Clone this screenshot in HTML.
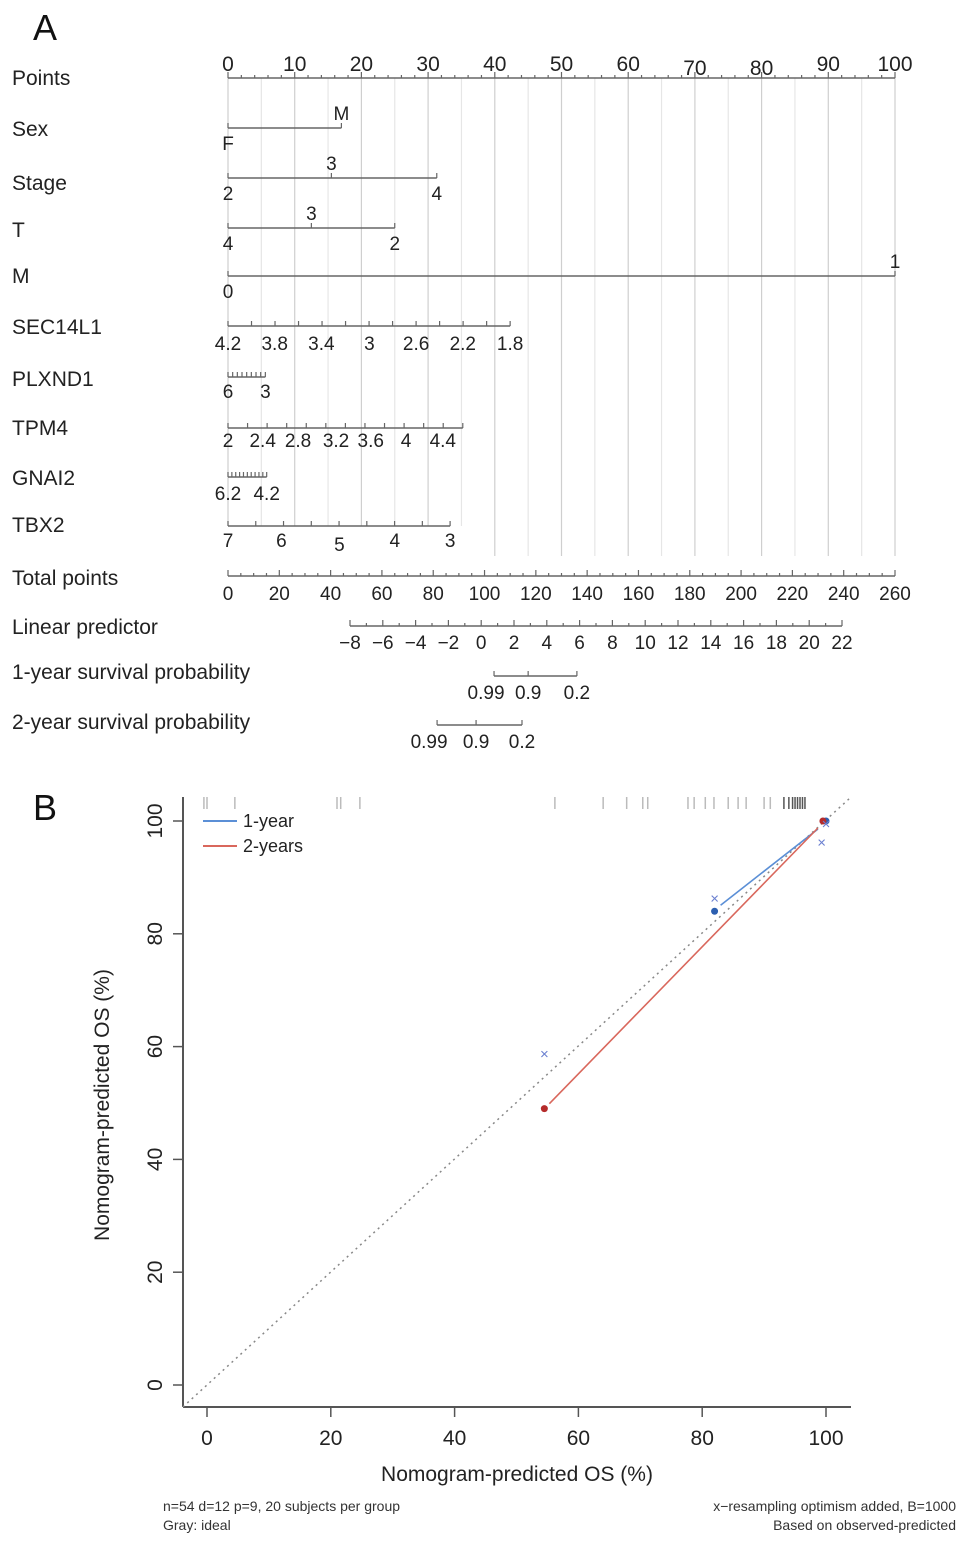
<!DOCTYPE html>
<html><head><meta charset="utf-8"><style>
body{margin:0;background:#fff;}
svg{display:block;font-family:"Liberation Sans",Arial,sans-serif;}
</style></head><body>
<svg id="fig" width="969" height="1547" viewBox="0 0 969 1547" xmlns="http://www.w3.org/2000/svg">
<g id="nomo"></g>
<g id="cal"></g>
</svg>
<script>
// ===== Panel A data =====
const rowNames = ["Points","Sex","Stage","T","M","SEC14L1","PLXND1","TPM4","GNAI2","TBX2","Total points","Linear predictor","1-year survival probability","2-year survival probability"];
const pointTicks = [0,10,20,30,40,50,60,70,80,90,100];
const sexLabels = ["F","M"]; const sexPoints = [0,17];
const stageLabels = ["2","3","4"]; const stagePoints = [0,15.5,31.3];
const tLabels = ["4","3","2"]; const tPoints = [0,12.5,25];
const mLabels = ["0","1"]; const mPoints = [0,100];
const secLabels = ["4.2","3.8","3.4","3","2.6","2.2","1.8"]; const secPoints = [0,7,14,21.2,28.2,35.2,42.3];
const plxLabels = ["6","3"]; const plxPoints = [0,5.6];
const tpmLabels = ["2","2.4","2.8","3.2","3.6","4","4.4"]; const tpmPoints = [0,5.2,10.5,16.2,21.4,26.7,32.2]; const tpmEnd = 35.2;
const gnaLabels = ["6.2","4.2"]; const gnaPoints = [0,5.8];
const tbxLabels = ["7","6","5","4","3"]; const tbxPoints = [0,8,16.7,25,33.3];
const totalTicks = [0,20,40,60,80,100,120,140,160,180,200,220,240,260];
const lpTicks = [-8,-6,-4,-2,0,2,4,6,8,10,12,14,16,18,20,22];
const surv1Labels = ["0.99","0.9","0.2"]; const surv1Total = [103.7,117,136];
const surv2Labels = ["0.99","0.9","0.2"]; const surv2Total = [81.5,96.7,114.6];

// ===== Panel B data =====
const calTicks = [0,20,40,60,80,100];
const rugValues = [-0.5,0,4.5,21,21.6,24.7,56.2,64,67.8,70.4,71.2,77.7,78.7,80.5,81.9,84.2,85.8,87.1,90,91,93.2,94,94.6,95,95.4,95.8,96.2,96.6];
const oneYearPred = [82,100]; const oneYearObs = [84,100];
const twoYearPred = [54.5,99.5]; const twoYearObs = [49,100];
const oneYearX = [54.5,82,99.3,100]; const oneYearXobs = [58.7,86.3,96.2,99.5];

const NS="http://www.w3.org/2000/svg";
function mk(parent,tag,attrs,text){const e=document.createElementNS(NS,tag);for(const k in attrs)e.setAttribute(k,attrs[k]);if(text!==undefined)e.textContent=text;parent.appendChild(e);return e;}

// ----- Panel A -----
const A=document.getElementById('nomo');
const px = p => 228 + p*6.67;
const tx = t => 228 + t*(895-228)/260;
const lx = v => 350 + (v+8)*(842-350)/30;
const t0 = mk(A,'text',{x:33,y:40,'font-size':36,fill:'#111'},'A');
 
for(let p=0;p<=100;p+=5){
  const g=mk(A,'line',{x1:px(p),x2:px(p),y1:78,y2:p<=35?526:556,stroke:p%10===0?'#cfcfcf':'#e6e6e6','stroke-width':1.2});
   
}
const rowY=[78,129,183,230,276,327,379,428,478,525,578,627,672,722];
rowNames.forEach((n,i)=>{const e=mk(A,'text',{x:12,y:rowY[i]+7,'font-size':21,fill:'#222'},n);
   });
function axisLine(y,x1,x2,name){const e=mk(A,'line',{x1,x2,y1:y,y2:y,stroke:'#666','stroke-width':1.5});
   }
function tick(x,y,h){mk(A,'line',{x1:x,x2:x,y1:y,y2:y+h,stroke:'#666','stroke-width':1.2});}
function lbl(x,y,s,size){const e=mk(A,'text',{x,y,'font-size':size||19,'text-anchor':'middle',fill:'#222'},s);
   }
axisLine(78,px(0),px(100),'points-axis');
for(let p=0;p<=100;p+=2){tick(px(p),78,-(p%10===0?6:3));}
pointTicks.forEach((p,i)=>lbl(px(p),[71,71,71,71,71,71,71,75,75,71,71][i],String(p),21));
function catRow(y,pts,labs,aboveIdx){
  axisLine(y,px(pts[0]),px(pts[pts.length-1]),'scale-line');
  pts.forEach((p,i)=>{tick(px(p),y,-5);
    if(aboveIdx.includes(i)) lbl(px(p),y-8,labs[i]); else lbl(px(p),y+22,labs[i]);});
}
catRow(128,sexPoints,sexLabels,[1]);
catRow(178,stagePoints,stageLabels,[1]);
catRow(228,tPoints,tLabels,[1]);
catRow(276,mPoints,mLabels,[1]);
function contRow(y,pts,labs,minor,lblDy,end){
  const a=pts[0],b=(end!==undefined?end:pts[pts.length-1]);
  axisLine(y,px(a),px(b),'scale-line');
  for(let k=0;k<=minor;k++) tick(px(a+(b-a)*k/minor),y,-5);
  pts.forEach((p,i)=>lbl(px(p),y+lblDy+(labs[i]==="5"&&labs.length===5?4:0),labs[i]));
}
contRow(326,secPoints,secLabels,12,24);
contRow(377,plxPoints,plxLabels,8,21);
contRow(428,tpmPoints,tpmLabels,12,19,tpmEnd);
contRow(477,gnaPoints,gnaLabels,10,23);
contRow(526,tbxPoints,tbxLabels,8,21);
axisLine(576,tx(0),tx(260),'total-points-axis');
for(let t=0;t<=260;t+=5) tick(tx(t),576,-(t%20===0?6:3));
totalTicks.forEach(t=>lbl(tx(t),600,String(t)));
axisLine(626,lx(-8),lx(22),'linear-predictor-axis');
for(let v=-8;v<=22;v+=1) tick(lx(v),626,-(v%2===0?6:3));
lpTicks.forEach(v=>lbl(lx(v),649,String(v).replace('-','\u2212')));
function survRow(y,tots,labs){
  axisLine(y,tx(tots[0]),tx(tots[tots.length-1]),'survival-axis');
  tots.forEach((t,i)=>{tick(tx(t),y,-5);lbl(tx(t)+(i===0?-8:0),y+23,labs[i]);});
}
survRow(676,surv1Total,surv1Labels);
survRow(725,surv2Total,surv2Labels);

// ----- Panel B -----
const B=document.getElementById('cal');
const X = v => 207 + v*6.19;
const Y = v => 1385 - v*5.64;
const tb=mk(B,'text',{x:33,y:820,'font-size':36,fill:'#111'},'B');
 
const ax1=mk(B,'line',{x1:183,x2:183,y1:797,y2:1407,stroke:'#555','stroke-width':2});
 
const ax2=mk(B,'line',{x1:183,x2:851,y1:1407,y2:1407,stroke:'#555','stroke-width':2});
 
calTicks.forEach(v=>{
  mk(B,'line',{x1:X(v),x2:X(v),y1:1407,y2:1417,stroke:'#555','stroke-width':1.5});
  const e=mk(B,'text',{x:X(v),y:1445,'font-size':21,'text-anchor':'middle',fill:'#222'},String(v));
   
  mk(B,'line',{x1:173,x2:183,y1:Y(v),y2:Y(v),stroke:'#555','stroke-width':1.5});
  const f=mk(B,'text',{x:162,y:Y(v),'font-size':21,'text-anchor':'middle',fill:'#222',transform:`rotate(-90 162 ${Y(v)})`},String(v));
   
});
const xt=mk(B,'text',{x:517,y:1481,'font-size':21,'text-anchor':'middle',fill:'#222'},'Nomogram-predicted OS (%)');
 
const yt=mk(B,'text',{x:109,y:1105,'font-size':21,'text-anchor':'middle',fill:'#222',transform:'rotate(-90 109 1105)'},'Nomogram-predicted OS (%)');
 
const id=mk(B,'line',{x1:X(-3.9),y1:Y(-3.9),x2:X(104),y2:Y(104.2),stroke:'#888','stroke-width':1.5,'stroke-dasharray':'2,4'});
 
rugValues.forEach(v=>{const r=mk(B,'line',{x1:X(v),x2:X(v),y1:797,y2:809,stroke:v>93?'#555':'#bbb','stroke-width':1.5});
   });
const l1=mk(B,'line',{x1:X(oneYearPred[0])+6,y1:Y(oneYearObs[0])-6,x2:X(oneYearPred[1])-8,y2:Y(oneYearObs[1])+8,stroke:'#5b8fd6','stroke-width':1.6});
 
const l2=mk(B,'line',{x1:X(twoYearPred[0])+5,y1:Y(twoYearObs[0])-5,x2:X(twoYearPred[1])-5,y2:Y(twoYearObs[1])+7,stroke:'#d9675c','stroke-width':1.6});
 
oneYearPred.forEach((p,i)=>{const c=mk(B,'circle',{cx:X(p),cy:Y(oneYearObs[i]),r:3.5,fill:'#2d5fb0'});
   });
twoYearPred.forEach((p,i)=>{const c=mk(B,'circle',{cx:X(p),cy:Y(twoYearObs[i]),r:3.5,fill:'#b52b2b'});
   });
oneYearX.forEach((p,i)=>{const c=mk(B,'text',{x:X(p),y:Y(oneYearXobs[i])+5,'font-size':15,'text-anchor':'middle',fill:'#6a7fd0'},'\u00d7');
   });
const lg1=mk(B,'line',{x1:203,x2:237,y1:821,y2:821,stroke:'#5b8fd6','stroke-width':2});
 
const lt1=mk(B,'text',{x:243,y:827,'font-size':18,fill:'#222'},'1-year');
 
const lg2=mk(B,'line',{x1:203,x2:237,y1:846,y2:846,stroke:'#d9675c','stroke-width':2});
 
const lt2=mk(B,'text',{x:243,y:852,'font-size':18,fill:'#222'},'2-years');
 
[['n=54 d=12 p=9, 20 subjects per group',163,1511,'start'],['Gray: ideal',163,1530,'start'],
 ['x\u2212resampling optimism added, B=1000',956,1511,'end'],['Based on observed-predicted',956,1530,'end']].forEach(f=>{
  const e=mk(B,'text',{x:f[1],y:f[2],'font-size':14,'text-anchor':f[3],fill:'#333'},f[0]);
   });
</script>
</body></html>
